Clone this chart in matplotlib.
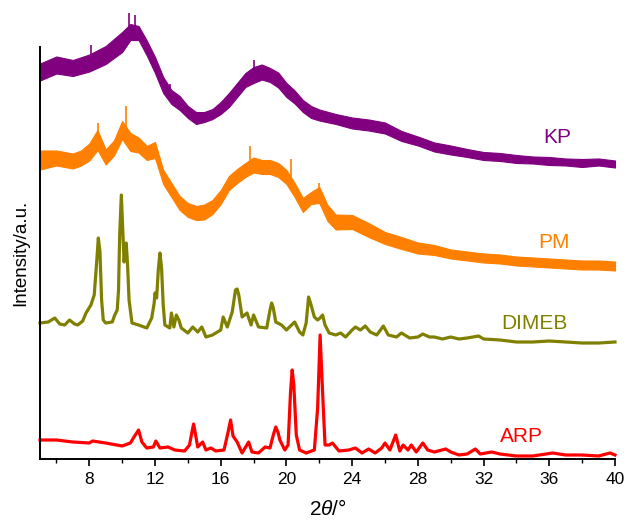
import numpy as np
import matplotlib
matplotlib.use("Agg")
import matplotlib.pyplot as plt

plt.rcParams['font.family'] = ['Liberation Sans', 'DejaVu Sans']
plt.rcParams['mathtext.fontset'] = 'custom'
plt.rcParams['mathtext.it'] = 'Liberation Sans:italic'
plt.rcParams['mathtext.rm'] = 'Liberation Sans'

# ---------------- data (2theta in degrees, intensity in a.u., offsets included) -------------
kp_x = [5, 6, 7, 8, 9, 10, 10.5, 11, 11.5, 12, 12.5, 13, 13.5, 14, 14.5, 15, 15.5, 16, 16.5,
        17, 17.5, 18, 18.5, 19, 19.5, 20, 20.5, 21, 21.5, 22, 23, 24, 25, 26, 27, 28, 29, 30,
        31, 32, 33, 34, 35, 36, 37, 38, 39, 40]
kp_y = [387, 394, 391, 396, 404, 417, 427, 426, 411, 394, 374, 362, 356, 347, 341, 342, 345,
        351, 359, 369, 379, 384, 387, 384, 379, 369, 362, 353, 347, 344, 340, 336, 334, 331,
        323, 318, 312, 309, 306, 303, 302, 300, 299, 298, 297, 296, 297, 295]
kp_noise = [17, 17, 16, 17, 18, 20, 16, 14, 15, 16, 16, 14, 14, 12, 12, 10, 10, 12, 14, 14,
            14, 16, 15, 14, 15, 14, 13, 12, 12, 11, 10, 11, 11, 11, 10, 9, 9, 9, 8, 8,
            8, 8, 7, 8, 7, 8, 7, 7]
kp_spike_x = [8.1, 10.4, 10.8, 18.0, 12.9]
kp_spike_y = [414, 446, 444, 399, 375]

pm_x = [5, 6, 7, 7.5, 8, 8.5, 9, 9.5, 10, 10.5, 11, 11.5, 12, 12.5, 13, 13.5, 14, 14.5, 15,
        15.5, 16, 16.5, 17, 17.5, 18, 18.5, 19, 19.5, 20, 20.5, 21, 21.5, 22, 22.5, 23, 24,
        25, 26, 27, 28, 29, 30, 31, 32, 33, 34, 35, 36, 37, 38, 39, 40]
pm_y = [299, 301, 298, 301, 307, 319, 302, 311, 329, 317, 314, 306, 309, 282, 269, 256, 249,
        246, 247, 252, 262, 276, 283, 289, 294, 292, 292, 289, 282, 269, 254, 261, 264, 246,
        237, 237, 229, 221, 216, 211, 209, 205, 203, 201, 200, 198, 197, 196, 195, 194, 194,
        193]
pm_noise = [19, 15, 15, 15, 17, 20, 15, 15, 18, 18, 15, 14, 16, 14, 14, 14, 14, 14, 15, 14,
            14, 14, 14, 14, 15, 14, 14, 14, 14, 14, 14, 12, 16, 16, 15, 14, 14, 12, 12, 11,
            10, 9, 9, 9, 9, 9, 9, 9, 9, 9, 9, 9]
pm_spike_x = [8.55, 10.25, 17.8, 22.0, 20.3]
pm_spike_y = [336, 353, 313, 276, 300]

dimeb_x = [5, 5.5, 5.9, 6.2, 6.5, 6.8, 7.1, 7.3, 7.6, 7.8, 8.1, 8.3, 8.45, 8.55, 8.65, 8.75,
           8.85, 9.0, 9.4, 9.55, 9.7, 9.78, 9.85, 9.95, 10.05, 10.12, 10.18, 10.25, 10.33,
           10.42, 10.6, 11.0, 11.5, 11.8, 11.95, 12.0, 12.1, 12.2, 12.3, 12.4, 12.5, 12.6,
           12.9, 13.0, 13.15, 13.3, 13.45, 13.6, 14.0, 14.3, 14.6, 14.85, 15.1, 15.5, 16.0,
           16.15, 16.4, 16.7, 16.9, 17.0, 17.1, 17.3, 17.6, 17.85, 18.0, 18.3, 18.8, 19.0,
           19.1, 19.2, 19.35, 19.7, 20.0, 20.5, 20.8, 21.0, 21.2, 21.35, 21.5, 21.7, 21.9,
           22.05, 22.2, 22.35, 22.6, 23.0, 23.3, 23.6, 24.0, 24.2, 24.5, 24.8, 25.1, 25.5,
           25.9, 26.2, 26.7, 27.0, 27.5, 28.0, 28.3, 28.7, 29.0, 29.5, 30, 30.5, 31, 31.7,
           32, 33, 34, 35, 36, 37, 38, 39, 40]
dimeb_y = [136, 137, 141, 135, 134, 139, 135, 134, 138, 146, 154, 164, 197, 221, 207, 159,
           139, 136, 137, 144, 149, 169, 224, 264, 224, 197, 209, 216, 194, 159, 136, 134,
           131, 141, 156, 166, 161, 189, 206, 191, 154, 134, 131, 146, 132, 144, 139, 131,
           126, 132, 127, 132, 122, 124, 129, 142, 132, 147, 169, 170, 164, 142, 146, 134,
           144, 132, 131, 149, 156, 151, 137, 134, 129, 137, 127, 124, 136, 162, 154, 142,
           139, 141, 144, 134, 126, 124, 126, 122, 129, 132, 129, 133, 127, 124, 133, 124,
           122, 126, 121, 122, 125, 122, 122, 120, 122, 120, 121, 123, 120, 119, 117, 117,
           118, 117, 116, 116, 117]

arp_x = [5, 6, 7, 8, 8.2, 9, 10, 10.5, 10.8, 11.0, 11.2, 11.5, 11.9, 12.05, 12.3, 12.8, 13.2,
         13.8, 14.1, 14.25, 14.35, 14.45, 14.6, 14.9, 15.1, 15.4, 15.7, 16.2, 16.45, 16.6,
         16.75, 17.0, 17.3, 17.7, 17.9, 18.3, 18.7, 19.0, 19.2, 19.35, 19.5, 19.6, 19.9,
         20.1, 20.25, 20.35, 20.45, 20.6, 20.8, 21.2, 21.7, 21.9, 22.05, 22.2, 22.35, 22.6,
         22.8, 23.2, 23.8, 24.2, 24.6, 25.0, 25.4, 25.8, 26.0, 26.3, 26.65, 26.9, 27.1,
         27.4, 27.6, 27.9, 28.3, 28.6, 29, 29.7, 30.0, 30.5, 31.0, 31.5, 31.8, 32.5, 33, 34,
         35, 36.2, 37, 38, 39, 39.7, 40]
arp_y = [19, 19, 17, 16, 18, 16, 13, 16, 24, 29, 17, 11, 12, 18, 11, 12, 9, 8, 14, 27, 35,
         26, 12, 17, 9, 11, 8, 9, 27, 39, 23, 17, 6, 17, 7, 6, 12, 11, 24, 32, 26, 19, 9, 14,
         67, 89, 74, 24, 9, 6, 9, 51, 124, 67, 14, 14, 16, 8, 9, 11, 6, 10, 6, 11, 16, 9, 24,
         8, 14, 9, 14, 7, 16, 9, 7, 10, 7, 4, 5, 10, 5, 7, 5, 3, 3, 6, 4, 4, 3, 6, 4]

labels = ["KP", "PM", "DIMEB", "ARP"]
label_x = [36.5, 36.3, 35.1, 34.3]
label_y = [322, 217, 136, 22]
colors = ["#800080", "#FF8000", "#808000", "#FF0000"]
xticks = [8, 12, 16, 20, 24, 28, 32, 36, 40]
minor_xticks = [6, 10, 14, 18, 22, 26, 30, 34, 38]

# ---------------- figure --------------------------------------------------------------
fig = plt.figure(figsize=(6.27, 5.24), dpi=100)
ax = fig.add_axes([40 / 627, 1 - 459 / 524, 575 / 627, 412 / 524])

def band(x, y, w, col, sx, sy):
    x = np.array(x, float); y = np.array(y, float); w = np.array(w, float)
    ax.fill_between(x, y - w / 2, y + w / 2, color=col, lw=0.8, clip_on=False)
    base = np.interp(sx, x, y)
    ax.vlines(sx, base, sy, color=col, lw=1.2, clip_on=False)

band(kp_x, kp_y, kp_noise, colors[0], kp_spike_x, kp_spike_y)
band(pm_x, pm_y, pm_noise, colors[1], pm_spike_x, pm_spike_y)
ax.plot(dimeb_x, dimeb_y, color=colors[2], lw=2.3, clip_on=False, solid_joinstyle='round')
ax.plot(arp_x, arp_y, color=colors[3], lw=2.3, clip_on=False, solid_joinstyle='round')

for t, lx, ly, c in zip(labels, label_x, label_y, colors):
    ax.text(lx, ly, t, color=c, fontsize=15, ha='center', va='center')

ax.set_xlim(5, 40)
ax.set_ylim(0, 412)
ax.set_xticks(xticks)
ax.set_xticks(minor_xticks, minor=True)
ax.set_yticks([])
ax.tick_params(axis='x', which='major', direction='out', length=5, width=1.2,
               labelsize=12.5, pad=4)
ax.tick_params(axis='x', which='minor', direction='out', length=3, width=1.0)
for s in ['top', 'right']:
    ax.spines[s].set_visible(False)
for s in ['left', 'bottom']:
    ax.spines[s].set_linewidth(1.4)

ax.set_xlabel(r"2$\mathit{\theta}$/°", fontsize=15, labelpad=9)
ax.set_ylabel("Intensity/a.u.", fontsize=13.5, labelpad=8)

fig.savefig("out.png", dpi=100)
